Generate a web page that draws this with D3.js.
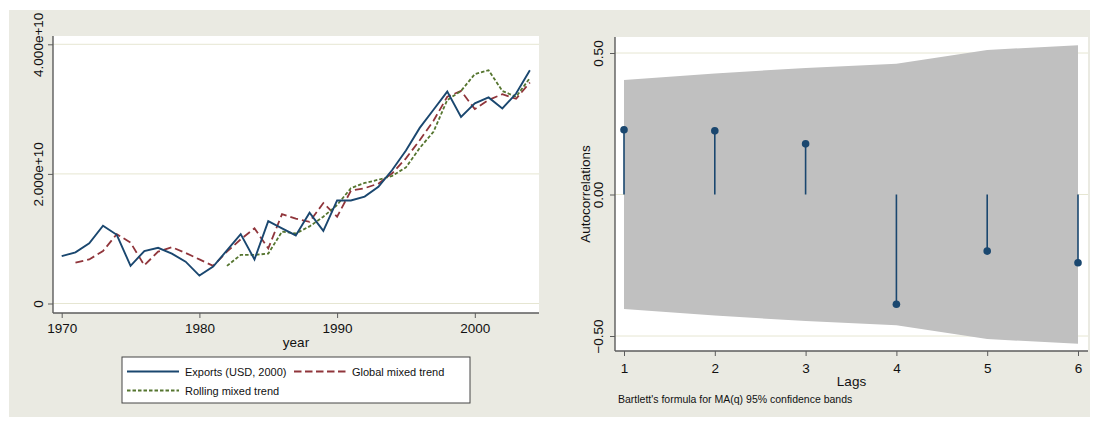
<!DOCTYPE html>
<html><head><meta charset="utf-8">
<script src="https://cdn.jsdelivr.net/npm/d3@7"></script>
<style>html,body{margin:0;padding:0;background:#fff}svg{display:block;font-family:"Liberation Sans",Arial,sans-serif}</style>
</head><body>
<svg id="c" width="1096" height="424"></svg>
<script>
// ---- data ----
const years = [1970,1971,1972,1973,1974,1975,1976,1977,1978,1979,1980,1981,1982,1983,1984,1985,1986,1987,1988,1989,1990,1991,1992,1993,1994,1995,1996,1997,1998,1999,2000,2001,2002,2003,2004];
const exportsVals = [0.73,0.79,0.93,1.20,1.06,0.58,0.81,0.86,0.77,0.645,0.43,0.57,0.82,1.07,0.68,1.27,1.16,1.05,1.40,1.12,1.59,1.59,1.65,1.80,2.06,2.36,2.71,2.99,3.27,2.88,3.09,3.18,3.01,3.24,3.60]; // x 1e10
const globalYears = years.slice(1);
const globalVals = [0.63,0.68,0.81,1.07,0.94,0.59,0.80,0.87,0.78,0.68,0.58,0.80,0.99,1.16,0.85,1.38,1.31,1.26,1.55,1.34,1.74,1.78,1.85,2.01,2.24,2.52,2.82,3.19,3.28,3.00,3.14,3.23,3.16,3.41];
const rollingYears = years.slice(12);
const rollingVals = [0.58,0.75,0.75,0.77,1.11,1.08,1.19,1.34,1.52,1.78,1.86,1.91,1.97,2.10,2.40,2.65,3.14,3.28,3.54,3.60,3.28,3.19,3.48];
const yTicksLeft = [0, 2e10, 4e10];
const yTickLabelsLeft = ["0", "2.000e+10", "4.000e+10"];
const xTicksLeft = [1970, 1980, 1990, 2000];
const seriesNames = ["Exports (USD, 2000)", "Global mixed trend", "Rolling mixed trend"];

const lags = [1,2,3,4,5,6];
const acfVals = [0.229,0.225,0.179,-0.388,-0.200,-0.241];
const bandVals = [0.405,0.428,0.447,0.462,0.511,0.527];
const yTicksRight = [-0.5, 0, 0.5];

// ---- styles ----
const navy = "#1A476F", maroon = "#90353B", green = "#55752F";
const bg = "#EAEAE2", grid = "#E6E6D2", axisCol = "#5C5C5C", txt = "#111";

const svg = d3.select("#c");
svg.append("rect").attr("x",9).attr("y",10).attr("width",1081).attr("height",407).attr("fill",bg);

// ================= LEFT =================
const L = {x0:53, x1:539, y0:36, y1:313};
svg.append("rect").attr("x",L.x0).attr("y",L.y0).attr("width",L.x1-L.x0).attr("height",L.y1-L.y0).attr("fill","#fff");
const xL = d3.scaleLinear().domain([1970,2000]).range([61.7,474.8]);
const yL = d3.scaleLinear().domain([0,4e10]).range([303.5,44.3]);

const gL = svg.append("g");
gL.selectAll("line.grid").data(yTicksLeft).join("line")
  .attr("x1",L.x0).attr("x2",L.x1).attr("y1",d=>yL(d)).attr("y2",d=>yL(d))
  .attr("stroke",grid).attr("stroke-width",1);

const lineL = d3.line().x(d=>xL(d[0])).y(d=>yL(d[1]*1e10));
const mk = (ys, vs) => ys.map((y,i)=>[y, vs[i]]);
gL.append("path").datum(mk(globalYears,globalVals)).attr("d",lineL)
  .attr("fill","none").attr("stroke",maroon).attr("stroke-width",1.8).attr("stroke-dasharray","8,4");
gL.append("path").datum(mk(rollingYears,rollingVals)).attr("d",lineL)
  .attr("fill","none").attr("stroke",green).attr("stroke-width",1.8).attr("stroke-dasharray","3.5,2");
gL.append("path").datum(mk(years,exportsVals)).attr("d",lineL)
  .attr("fill","none").attr("stroke",navy).attr("stroke-width",1.9).attr("stroke-linejoin","miter");

// axes
const axL = d3.axisLeft(yL).tickValues(yTicksLeft).tickSize(5).tickFormat((d,i)=>yTickLabelsLeft[i]);
const gyL = svg.append("g").attr("transform",`translate(${L.x0},0)`).call(axL);
gyL.select(".domain").remove();
gyL.append("line").attr("x1",0).attr("x2",0).attr("y1",L.y0).attr("y2",L.y1).attr("stroke",axisCol).attr("stroke-width",1.4);
gyL.selectAll(".tick line").attr("stroke",axisCol);
gyL.selectAll(".tick text").attr("transform","rotate(-90)").attr("x",0).attr("y",-10).attr("dy",0)
  .attr("text-anchor","middle").attr("font-size",13.5).attr("fill",txt).attr("font-family",null);

const axB = d3.axisBottom(xL).tickValues(xTicksLeft).tickSize(5).tickFormat(d3.format("d"));
const gxL = svg.append("g").attr("transform",`translate(0,${L.y1})`).call(axB);
gxL.select(".domain").remove();
gxL.append("line").attr("x1",L.x0).attr("x2",L.x1).attr("y1",0).attr("y2",0).attr("stroke",axisCol).attr("stroke-width",1.4);
gxL.selectAll(".tick line").attr("stroke",axisCol);
gxL.selectAll(".tick text").attr("y",20).attr("dy",0).attr("font-size",13.5).attr("fill",txt).attr("font-family",null);

svg.append("text").attr("x",(L.x0+L.x1)/2).attr("y",347).attr("text-anchor","middle")
  .attr("font-size",13.5).attr("fill",txt).text("year");

// legend
const lg = svg.append("g");
lg.append("rect").attr("x",122).attr("y",357).attr("width",348).attr("height",46).attr("fill","#fff").attr("stroke","#444").attr("stroke-width",1);
const legItems = [
  {name:seriesNames[0], col:navy, dash:null, x:127, y:371.5},
  {name:seriesNames[1], col:maroon, dash:"7.5,3.5", x:294, y:371.5},
  {name:seriesNames[2], col:green, dash:"3.5,2", x:127, y:390.5}
];
legItems.forEach(it=>{
  lg.append("line").attr("x1",it.x).attr("x2",it.x+52).attr("y1",it.y).attr("y2",it.y)
    .attr("stroke",it.col).attr("stroke-width",1.8).attr("stroke-dasharray",it.dash);
  lg.append("text").attr("x",it.x+58).attr("y",it.y+4).attr("font-size",11).attr("fill",txt).text(it.name);
});

// ================= RIGHT =================
const R = {x0:615, x1:1088, y0:37, y1:351};
svg.append("rect").attr("x",R.x0).attr("y",R.y0).attr("width",R.x1-R.x0).attr("height",R.y1-R.y0).attr("fill","#fff");
const xR = d3.scaleLinear().domain([1,6]).range([624,1078]);
const yR = d3.scaleLinear().domain([-0.5,0.5]).range([336,53]);

const gR = svg.append("g");
gR.selectAll("line.grid").data(yTicksRight).join("line")
  .attr("x1",R.x0).attr("x2",R.x1).attr("y1",d=>yR(d)).attr("y2",d=>yR(d))
  .attr("stroke",grid).attr("stroke-width",1);

const band = d3.area().x((d,i)=>xR(lags[i])).y0(d=>yR(-d)).y1(d=>yR(d));
gR.append("path").datum(bandVals).attr("d",band).attr("fill","#C0C0C0");

gR.selectAll("line.stem").data(acfVals).join("line")
  .attr("x1",(d,i)=>xR(lags[i])).attr("x2",(d,i)=>xR(lags[i]))
  .attr("y1",yR(0)).attr("y2",d=>yR(d)).attr("stroke",navy).attr("stroke-width",1.6);
gR.selectAll("circle").data(acfVals).join("circle")
  .attr("cx",(d,i)=>xR(lags[i])).attr("cy",d=>yR(d)).attr("r",3.8).attr("fill",navy);

const axRL = d3.axisLeft(yR).tickValues(yTicksRight).tickSize(5).tickFormat(d3.format(".2f"));
const gyR = svg.append("g").attr("transform",`translate(${R.x0},0)`).call(axRL);
gyR.select(".domain").remove();
gyR.append("line").attr("x1",0).attr("x2",0).attr("y1",R.y0).attr("y2",R.y1).attr("stroke",axisCol).attr("stroke-width",1.4);
gyR.selectAll(".tick line").attr("stroke",axisCol);
gyR.selectAll(".tick text").text(d=>d3.format(".2f")(d).replace("-","-"))
  .attr("transform","rotate(-90)").attr("x",0).attr("y",-12).attr("dy",0)
  .attr("text-anchor","middle").attr("font-size",13.5).attr("fill",txt).attr("font-family",null);

const axRB = d3.axisBottom(xR).tickValues(lags).tickSize(5).tickFormat(d3.format("d"));
const gxR = svg.append("g").attr("transform",`translate(0,${R.y1})`).call(axRB);
gxR.select(".domain").remove();
gxR.append("line").attr("x1",R.x0).attr("x2",R.x1).attr("y1",0).attr("y2",0).attr("stroke",axisCol).attr("stroke-width",1.4);
gxR.selectAll(".tick line").attr("stroke",axisCol);
gxR.selectAll(".tick text").attr("y",22).attr("dy",0).attr("font-size",13.5).attr("fill",txt).attr("font-family",null);

svg.append("text").attr("transform",`translate(590,${(R.y0+R.y1)/2}) rotate(-90)`).attr("text-anchor","middle")
  .attr("font-size",13.5).attr("fill",txt).text("Autocorrelations");
svg.append("text").attr("x",(R.x0+R.x1)/2).attr("y",386).attr("text-anchor","middle")
  .attr("font-size",13.5).attr("fill",txt).text("Lags");
svg.append("text").attr("x",618).attr("y",403).attr("font-size",10.5).attr("fill",txt)
  .text("Bartlett's formula for MA(q) 95% confidence bands");
</script>
</body></html>
